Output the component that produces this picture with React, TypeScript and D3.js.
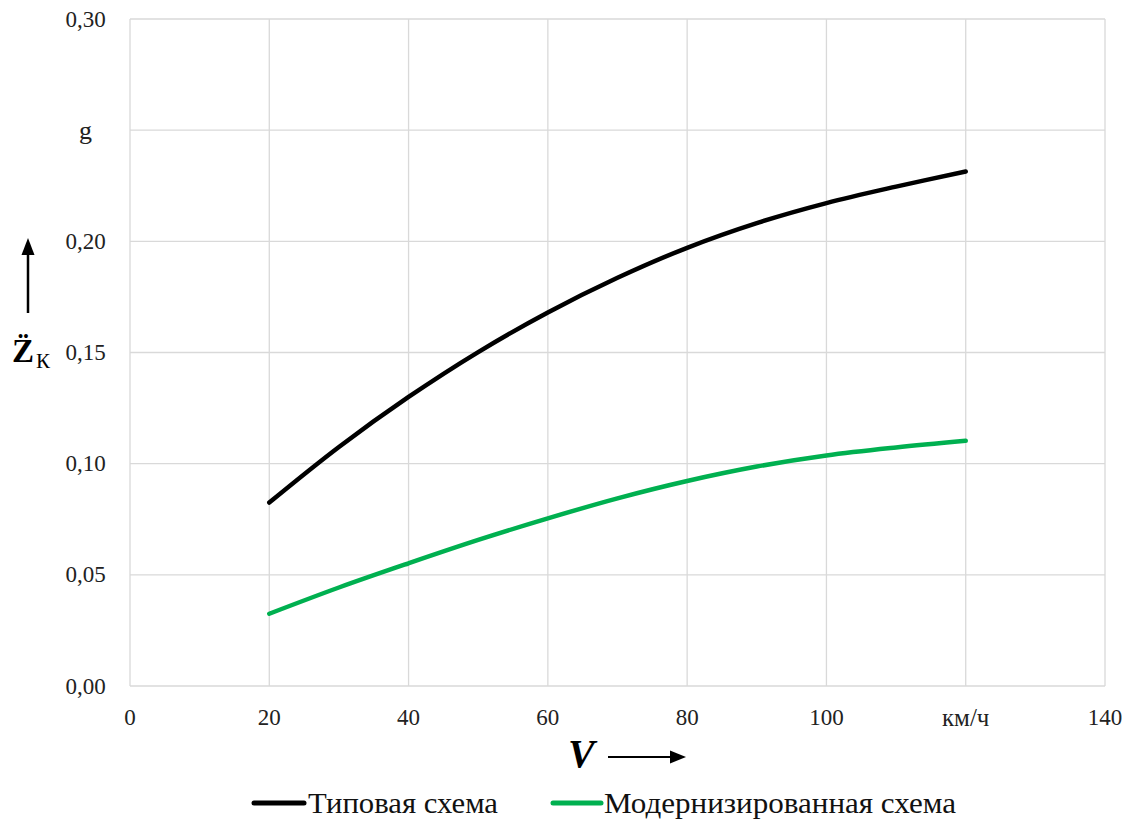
import React from "react";
import * as d3 from "d3";

const speeds = [20, 30, 40, 50, 60, 70, 80, 90, 100, 110, 120];
const typicalScheme = [0.0825, 0.1075, 0.130, 0.1502, 0.168, 0.1836, 0.1971, 0.2082, 0.2172, 0.2246, 0.2314];
const modernScheme = [0.0325, 0.0443, 0.0552, 0.0657, 0.0754, 0.0844, 0.0922, 0.0987, 0.1037, 0.1073, 0.1103];

const xTicks = [0, 20, 40, 60, 80, 100, 120, 140];
const xTickLabels = ["0", "20", "40", "60", "80", "100", "км/ч", "140"];
const yTicks = [0, 0.05, 0.1, 0.15, 0.2, 0.25, 0.3];
const yTickLabels = ["0,00", "0,05", "0,10", "0,15", "0,20", "g", "0,30"];

const seriesNames = ["Типовая схема", "Модернизированная схема"];
const seriesColors = ["#000000", "#00b050"];

const W = 1137;
const H = 825;
const FONT = '"Liberation Serif", "DejaVu Serif", serif';
const tf = { fontFamily: FONT };

export default function App() {
  const x = d3.scaleLinear().domain([0, 140]).range([130, 1105]);
  const y = d3.scaleLinear().domain([0, 0.3]).range([686, 19]);
  const line = d3
    .line<[number, number]>()
    .x((d) => x(d[0]))
    .y((d) => y(d[1]))
    .curve(d3.curveCatmullRom.alpha(0.5));

  const series = [typicalScheme, modernScheme].map((vals) =>
    speeds.map((s, i) => [s, vals[i]] as [number, number])
  );

  return (
    <svg
      width={W}
      height={H}
      style={{ position: "absolute", left: 0, top: 0, background: "#fff", fontFamily: FONT }}
    >
      <rect x={0} y={0} width={W} height={H} fill="#fff" />
      {/* grid */}
      {yTicks.map((t) => (
        <line key={"gy" + t} x1={x(0)} x2={x(140)} y1={y(t)} y2={y(t)} stroke="#d9d9d9" strokeWidth={1.3} />
      ))}
      {xTicks.map((t) => (
        <line key={"gx" + t} x1={x(t)} x2={x(t)} y1={y(0)} y2={y(0.3)} stroke="#d9d9d9" strokeWidth={1.3} />
      ))}
      {/* y tick labels */}
      {yTicks.map((t, i) => (
        <text
          key={"yl" + t}
          x={85.5}
          y={y(t)}
          textAnchor="middle"
          dominantBaseline="central"
          fontSize={yTickLabels[i] === "g" ? 26 : 23}
          fill="#222"
          style={tf}
        >
          {yTickLabels[i]}
        </text>
      ))}
      {/* x tick labels */}
      {xTicks.map((t, i) => (
        <text
          key={"xl" + t}
          x={x(t)}
          y={717}
          textAnchor="middle"
          dominantBaseline="central"
          fontSize={xTickLabels[i] === "км/ч" ? 25 : 23}
          fill="#222"
          style={tf}
        >
          {xTickLabels[i]}
        </text>
      ))}
      {/* series */}
      {series.map((pts, i) => (
        <path
          key={"s" + i}
          d={line(pts) || ""}
          fill="none"
          stroke={seriesColors[i]}
          strokeWidth={4.5}
          strokeLinecap="round"
          strokeLinejoin="round"
        />
      ))}
      {/* y axis title with arrow */}
      <line x1={28} x2={28} y1={313} y2={252} stroke="#000" strokeWidth={2.5} />
      <path d="M28,238 L21.5,255 L34.5,255 Z" fill="#000" />
      <text x={12} y={362} fontSize={33} fontWeight="bold" fill="#000" style={tf}>
        {"Z\u0308"}
      </text>
      <text x={36} y={368} fontSize={21} fill="#000" style={tf}>
        К
      </text>
      {/* x axis title with arrow */}
      <text x={568} y={767} fontSize={40} fontWeight="bold" fontStyle="italic" fill="#000" style={tf}>
        V
      </text>
      <line x1={608} x2={672} y1={757} y2={757} stroke="#000" strokeWidth={2.2} />
      <path d="M686,757 L670,750.5 L670,763.5 Z" fill="#000" />
      {/* legend */}
      <line x1={254} x2={304} y1={803} y2={803} stroke={seriesColors[0]} strokeWidth={5} strokeLinecap="round" />
      <text x={308} y={813} fontSize={29} fill="#111" textLength={190} lengthAdjust="spacingAndGlyphs" style={tf}>
        {seriesNames[0]}
      </text>
      <line x1={553} x2={601} y1={803} y2={803} stroke={seriesColors[1]} strokeWidth={5} strokeLinecap="round" />
      <text x={604} y={813} fontSize={29} fill="#111" textLength={352} lengthAdjust="spacingAndGlyphs" style={tf}>
        {seriesNames[1]}
      </text>
    </svg>
  );
}
